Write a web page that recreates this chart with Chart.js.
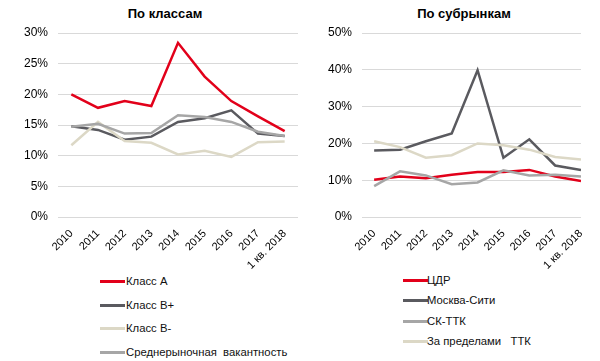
<!DOCTYPE html>
<html>
<head>
<meta charset="utf-8">
<script src="https://cdn.jsdelivr.net/npm/chart.js@4/dist/chart.umd.min.js"></script>
<style>
  body { margin: 0; background: #fff; font-family: "Liberation Sans", Arial, sans-serif; }
  #wrap { position: relative; width: 600px; height: 361px; overflow: hidden; }
  .box { position: absolute; top: 0; width: 300px; height: 270px; }
  .ttl { position: absolute; top: 6px; font-weight: bold; font-size: 13px; color: #000; transform: translateX(-50%); white-space: nowrap; }
  .legend { position: absolute; font-size: 11.3px; color: #111; }
  .legend .row { position: absolute; left: 0; white-space: pre; height: 14px; line-height: 14px; }
  .legend .sw { position: absolute; left: 0; top: 6px; width: 25px; height: 3px; }
  .legend .tx { position: absolute; top: 0; }
</style>
</head>
<body>
<div id="wrap">
  <div class="ttl" style="left:165px">По классам</div>
  <div class="ttl" style="left:464px">По субрынкам</div>
  <div class="box" style="left:0"><canvas id="left"></canvas></div>
  <div class="box" style="left:300px"><canvas id="right"></canvas></div>
  <div class="legend" id="legLeft" style="left:100px; top:274px"></div>
  <div class="legend" id="legRight" style="left:403px; top:273px"></div>
</div>
<script>
const years = ["2010", "2011", "2012", "2013", "2014", "2015", "2016", "2017", "1 кв. 2018"];

// По классам, %
const classA     = [20.0, 17.8, 18.9, 18.1, 28.4, 22.9, 18.9, 16.4, 14.0];
const classBplus = [14.8, 14.2, 12.6, 13.1, 15.5, 16.1, 17.4, 13.6, 13.2];
const classBminus= [11.7, 15.5, 12.4, 12.1, 10.2, 10.8, 9.8, 12.2, 12.3];
const avgVacancy = [14.7, 15.2, 13.6, 13.7, 16.6, 16.3, 15.5, 13.9, 13.2];

// По субрынкам, %
const cdr        = [10.1, 11.0, 10.5, 11.5, 12.2, 12.2, 12.8, 11.0, 9.8];
const moscowCity = [18.1, 18.3, 20.6, 22.7, 39.9, 16.1, 21.1, 14.0, 12.8];
const skTtk      = [8.4, 12.4, 11.3, 8.9, 9.4, 12.7, 11.3, 11.5, 11.0];
const outsideTtk = [20.6, 19.0, 16.1, 16.8, 20.0, 19.5, 18.3, 16.3, 15.6];

const RED = "#e2001a", DARK = "#5a5a5f", BEIGE = "#dcd8c6", LIGHT = "#a6a6a6";

const leftSeries = [
  { label: "Класс А", data: classA, color: RED },
  { label: "Класс В+", data: classBplus, color: DARK },
  { label: "Класс В-", data: classBminus, color: BEIGE },
  { label: "Среднерыночная  вакантность", data: avgVacancy, color: LIGHT },
];
const rightSeries = [
  { label: "ЦДР", data: cdr, color: RED },
  { label: "Москва-Сити", data: moscowCity, color: DARK },
  { label: "СК-ТТК", data: skTtk, color: LIGHT },
  { label: "За пределами   ТТК", data: outsideTtk, color: BEIGE },
];

const FONT = "'Liberation Sans', Arial, sans-serif";

function makeChart(id, series, yMax, yStep, xMin, xMax, yWidth, padRight) {
  const ctx = document.getElementById(id).getContext("2d");
  return new Chart(ctx, {
    type: "line",
    data: {
      datasets: series.slice().reverse().map(s => ({
        label: s.label,
        data: s.data.map((v, i) => ({ x: i, y: v })),
        borderColor: s.color,
        backgroundColor: s.color,
        borderWidth: 2.5,
        pointRadius: 0,
        tension: 0,
        fill: false,
      })),
    },
    options: {
      responsive: false,
      animation: false,
      layout: { padding: { top: 33, right: padRight, left: 0, bottom: 0 } },
      plugins: { legend: { display: false }, tooltip: { enabled: false } },
      scales: {
        x: {
          type: "linear",
          min: xMin,
          max: xMax,
          grid: { display: false },
          border: { display: false },
          afterBuildTicks: (scale) => { scale.ticks = years.map((_, i) => ({ value: i })); },
          afterFit: (scale) => { scale.height = 53; },
          ticks: {
            autoSkip: false,
            minRotation: 45,
            maxRotation: 45,
            padding: 2,
            color: "#000",
            font: { family: FONT, size: 11 },
            callback: (v) => years[v] !== undefined ? years[v] : "",
          },
        },
        y: {
          min: 0,
          max: yMax,
          grid: { color: "#d9d9d9", lineWidth: 1, drawTicks: false },
          border: { display: false },
          afterFit: (scale) => { scale.width = yWidth; },
          ticks: {
            stepSize: yStep,
            padding: 10,
            color: "#000",
            font: { family: FONT, size: 12 },
            callback: (v) => v + "%",
          },
        },
      },
    },
  });
}

function setupCanvas(id) {
  const c = document.getElementById(id);
  c.width = 300; c.height = 270;
  c.style.width = "300px"; c.style.height = "270px";
}
setupCanvas("left");
setupCanvas("right");

makeChart("left", leftSeries, 30, 5, -0.5, 8.5, 58, 2);
makeChart("right", rightSeries, 50, 10, -0.47, 8, 62, 19);

function buildLegend(id, series, rowGap, textLeft) {
  const el = document.getElementById(id);
  series.forEach((s, i) => {
    const row = document.createElement("div");
    row.className = "row";
    row.style.top = (i * rowGap) + "px";
    const sw = document.createElement("div");
    sw.className = "sw";
    sw.style.background = s.color;
    const tx = document.createElement("span");
    tx.className = "tx";
    tx.style.left = textLeft + "px";
    tx.textContent = s.label;
    row.appendChild(sw);
    row.appendChild(tx);
    el.appendChild(row);
  });
}
buildLegend("legLeft", leftSeries, 23.7, 26);
buildLegend("legRight", rightSeries, 20.3, 24);
</script>
</body>
</html>
